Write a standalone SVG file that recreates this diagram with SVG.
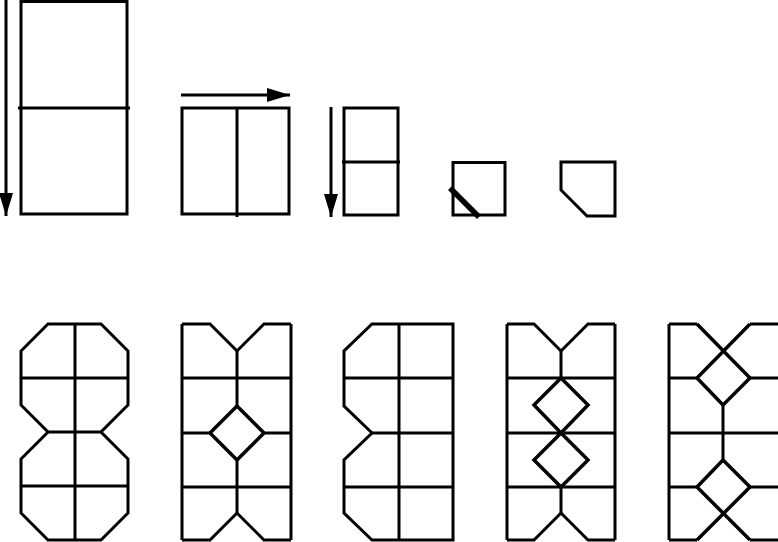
<svg xmlns="http://www.w3.org/2000/svg" width="778" height="542" viewBox="0 0 778 542">
<defs>
<style>
.s{fill:none;stroke:#000;stroke-width:3;stroke-linejoin:miter}
.d{fill:none;stroke:#000;stroke-width:3.5}
.t{fill:none;stroke:#000;stroke-width:5.5}
.a{fill:none;stroke:#000;stroke-width:3}
</style>
<marker id="ah" markerUnits="userSpaceOnUse" markerWidth="23" markerHeight="14" viewBox="0 0 23 14" refX="23" refY="7" orient="auto">
<path d="M0,0 L23,7 L0,14 Z" fill="#000"/>
</marker>
</defs>
<rect width="778" height="542" fill="#fff"/>
<g id="step1">
<rect class="s" x="21" y="1.5" width="106" height="212.5"/>
<path class="s" d="M18,108 H130"/>
</g>
<g id="step2">
<rect class="s" x="182" y="108" width="107" height="106"/>
<path class="s" d="M237,108 V217"/>
</g>
<g id="step3">
<rect class="s" x="344" y="108" width="54" height="107"/>
<path class="s" d="M342,162 H400"/>
</g>
<g id="step4">
<rect class="s" x="453" y="162.5" width="52" height="52.5"/>
<path class="t" d="M450,188 L479,217"/>
</g>
<g id="step5">
<path class="s" d="M561,162 H615 V216 H587 L561,190 Z"/>
</g>
<g id="pattern1">
<path class="s" d="M48,324 H101 L128,351 V405 L101,432 L128,459 V513 L101,540 H48 L21,513 V459 L48,432 L21,405 V351 Z"/>
<path class="s" d="M75,324 V540 M21,378 H128 M48,432 H101 M21,486 H128"/>
</g>
<g id="pattern2">
<path class="s" d="M182,324 V540 M291,324 V540 M182,324 H210 L237,351 L264,324 H291 M182,540 H210 L237,513 L264,540 H291"/>
<path class="s" d="M237,351 V406 M237,460 V513 M182,378 H291 M182,433 H210 M264,433 H291 M182,487 H291"/>
<path class="d" d="M237,406 L264,433 L237,460 L210,433 Z"/>
</g>
<g id="pattern3">
<path class="s" d="M372,324 H453 V540 H372 L344,513 V460 L372,433 L344,406 V351 Z"/>
<path class="s" d="M399,324 V540 M344,378 H453 M372,433 H453 M344,487 H453"/>
</g>
<g id="pattern4">
<path class="s" d="M507,324 V540 M615,324 V540 M507,324 H534 L561,351 L588,324 H615 M507,540 H534 L561,513 L588,540 H615"/>
<path class="s" d="M561,351 V378 M561,487 V513 M507,378 H615 M507,433 H615 M507,487 H615"/>
<path class="d" d="M561,378 L588,405 L561,433 L534,405 Z M561,433 L588,460 L561,487 L534,460 Z"/>
</g>
<g id="pattern5">
<path class="s" d="M669,324 V540 M669,324 H697 M750,324 H778 M669,540 H697 M750,540 H778"/>
<path class="s" d="M669,378 H697 M750,378 H778 M669,433 H778 M669,487 H697 M750,487 H778 M723,405 V460"/>
<path class="d" d="M697,324 L750,378 L723,405 L697,378 L750,324 M697,540 L750,487 L723,460 L697,487 L750,540"/>
</g>
<g id="connectors">
<path class="a" d="M6,0 V216" marker-end="url(#ah)"/>
<path class="a" d="M181,95 H290" marker-end="url(#ah)"/>
<path class="a" d="M331,107 V217" marker-end="url(#ah)"/>
</g>
</svg>
